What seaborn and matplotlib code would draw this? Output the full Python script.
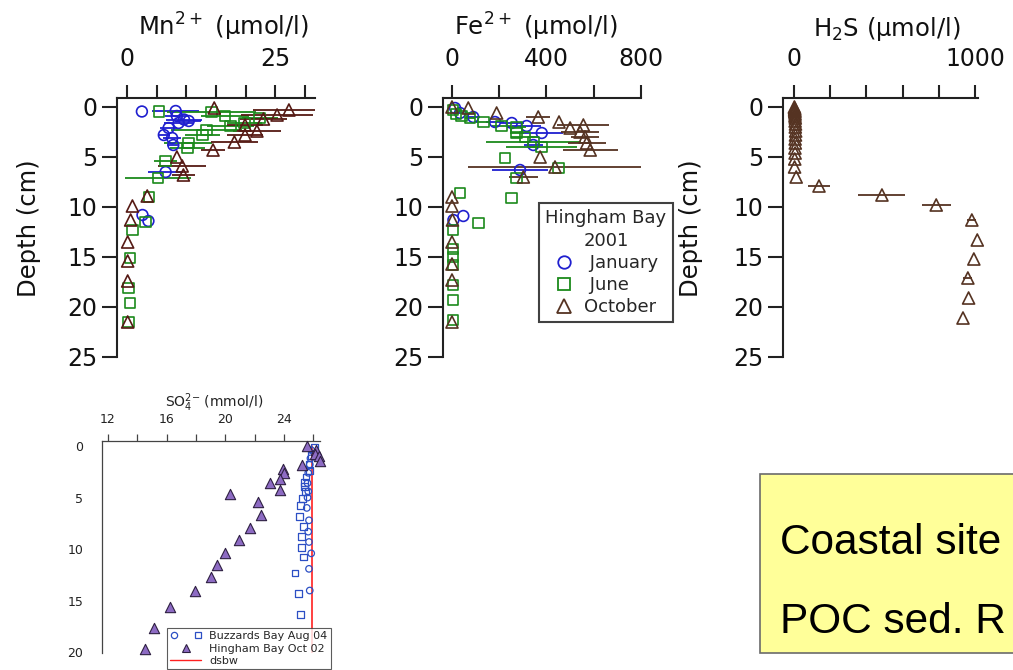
import numpy as np
import pandas as pd
import matplotlib
matplotlib.use("Agg")
import matplotlib.pyplot as plt
import seaborn as sns
from matplotlib.patches import Rectangle
from matplotlib.lines import Line2D
from matplotlib.legend_handler import HandlerTuple

# ---------------- Hingham Bay 2001 porewater profiles ----------------
# Mn2+ (µmol/l)
mn_jan_conc = [2.5, 8.2, 8.4, 9.6, 10.4, 8.7, 7.0, 6.2, 7.6, 7.8, 6.5, 2.6, 3.6]
mn_jan_depth = [0.45, 0.4, 0.9, 1.25, 1.4, 1.6, 2.1, 2.8, 3.1, 3.8, 6.5, 10.8, 11.4]
mn_jan_err = [0, 4.0, 2.0, 3.0, 2.0, 2.5, 1.5, 1.0, 1.5, 1.0, 3.0, 0, 0]

mn_jun_conc = [5.4, 14.2, 16.5, 22.4, 19.8, 17.4, 13.4, 12.7, 10.3, 10.2, 6.5, 5.2,
               3.7, 3.1, 0.9, 0.5, 0.2, 0.5, 0.2]
mn_jun_depth = [0.45, 0.5, 0.9, 1.1, 1.6, 1.9, 2.3, 2.8, 3.6, 4.1, 5.4, 7.1,
                9.0, 11.5, 12.3, 15.1, 18.1, 19.6, 21.5]
mn_jun_err = [0, 7.5, 4.0, 3.0, 3.0, 4.0, 6.0, 3.0, 4.0, 3.0, 2.0, 5.5,
              0, 0, 0, 0, 0, 0, 0]

mn_oct_conc = [14.7, 27.3, 25.3, 23.0, 19.9, 21.9, 19.9, 18.1, 14.5, 8.4, 9.3, 9.5,
               3.4, 0.9, 0.6, 0.1, 0.1, 0.1, 0.1]
mn_oct_depth = [0.1, 0.3, 0.8, 1.2, 1.8, 2.4, 2.8, 3.5, 4.3, 5.0, 5.9, 6.8,
                8.9, 9.9, 11.3, 13.5, 15.4, 17.4, 21.5]
mn_oct_err = [0, 6.0, 6.0, 4.0, 3.0, 4.0, 3.0, 4.0, 2.0, 0, 4.0, 2.0,
              0, 0, 0, 0, 0, 0, 0]

# Fe2+ (µmol/l)
fe_jan_conc = [13, 34, 90, 182, 253, 316, 380, 344, 288, 6, 48]
fe_jan_depth = [0.1, 0.6, 1.0, 1.5, 1.6, 1.9, 2.6, 3.8, 6.3, 11.3, 10.9]
fe_jan_err = [0, 15, 30, 40, 50, 60, 90, 40, 120, 0, 0]

fe_jun_conc = [4, 17, 40, 76, 133, 210, 274, 274, 309, 344, 380, 224, 450, 274, 253,
               34, 111, 4, 4, 4, 4, 4, 4, 4]
fe_jun_depth = [0.3, 0.7, 0.9, 1.1, 1.5, 1.9, 2.0, 2.6, 3.0, 3.5, 4.0, 5.1, 6.1, 7.1, 9.1,
                8.6, 11.6, 12.3, 14.2, 15.0, 15.8, 17.8, 19.3, 21.3]
fe_jun_err = [0, 0, 0, 20, 30, 40, 40, 30, 60, 200, 150, 0, 0, 0, 0,
              0, 0, 0, 0, 0, 0, 0, 0, 0]

fe_oct_conc = [0, 69, 189, 365, 453, 556, 500, 542, 563, 570, 585, 373, 436, 302,
               0, 0, 2, 0, 0, 0, 0]
fe_oct_depth = [0.0, 0.1, 0.6, 1.0, 1.5, 1.8, 2.1, 2.5, 3.0, 3.6, 4.3, 5.0, 6.0, 7.0,
                9.0, 9.9, 11.3, 13.5, 15.7, 17.3, 21.5]
fe_oct_err = [0, 0, 0, 50, 0, 110, 0, 80, 60, 80, 117, 0, 370, 60,
              0, 0, 0, 0, 0, 0, 0]

# H2S (µmol/l), October
h2s_oct_conc = [2, 3, 4, 3, 5, 4, 6, 5, 7, 6, 8, 7, 9, 8, 6, 7, 5, 6, 4, 3, 12,
                138, 486, 786, 983, 1013, 994, 961, 965, 934]
h2s_oct_depth = [0.0, 0.1, 0.2, 0.3, 0.4, 0.5, 0.7, 0.9, 1.1, 1.4, 1.7, 2.0, 2.4, 2.8,
                 3.2, 3.6, 4.1, 4.6, 5.2, 6.0, 7.0,
                 7.9, 8.8, 9.8, 11.3, 13.3, 15.2, 17.1, 19.1, 21.1]
h2s_oct_err = [0] * 21 + [60, 130, 80, 25, 0, 0, 25, 0, 0]

# SO4 2- (mmol/l)
so4_hb_conc = [25.55, 26.2, 26.1, 26.35, 26.45, 25.25, 23.95, 24.0, 23.7, 23.05, 23.7,
               20.3, 22.25, 22.4, 21.7, 20.95, 20.0, 19.4, 19.05, 17.95, 16.25, 15.15, 14.5]
so4_hb_depth = [0.05, 0.4, 0.75, 1.0, 1.45, 1.8, 2.2, 2.6, 3.2, 3.6, 4.25,
                4.7, 5.4, 6.7, 7.9, 9.1, 10.4, 11.5, 12.7, 14.0, 15.6, 17.6, 19.7]

so4_bb1_conc = [25.85, 25.8, 25.75, 25.65, 25.6, 25.65, 25.6, 25.55, 25.7, 25.65, 25.7,
                25.85, 25.7, 25.75]
so4_bb1_depth = [0.4, 1.2, 1.8, 2.6, 3.6, 4.4, 5.0, 6.0, 7.2, 8.3, 9.3, 10.4, 11.9, 14.0]

so4_bb2_conc = [26.1, 25.85, 25.7, 25.75, 25.5, 25.4, 25.4, 25.45, 25.25, 25.1, 25.05,
                25.3, 25.2, 25.2, 25.3, 24.75, 25.0, 25.1]
so4_bb2_depth = [0.1, 0.9, 1.8, 2.4, 3.0, 3.5, 3.9, 4.4, 5.05, 5.8, 6.85,
                 7.8, 8.75, 9.8, 10.75, 12.3, 14.3, 16.3]

dsbw_conc = [25.9, 25.9]
dsbw_depth = [0.0, 21.0]

# ---------------- styling ----------------
C_JAN = "#1f1fcf"
C_JUN = "#1b8a1b"
C_OCT1 = "#561a14"
C_OCT = "#553322"
C_SPINE = "#222222"

W, H = 1013, 670
sns.set_theme(style="white")
plt.rcParams["font.family"] = ["DejaVu Sans"]
plt.rcParams["mathtext.fontset"] = "dejavusans"

fig = plt.figure(figsize=(W / 100, H / 100), dpi=100)
fig.patch.set_facecolor("white")


def px_axes(left, right, top, bottom):
    return fig.add_axes([left / W, 1 - bottom / H, (right - left) / W, (bottom - top) / H])


def profile(ax, conc, depth, err, color, marker, size=60, lw=1.2):
    if err is not None:
        ax.errorbar(conc, depth, xerr=err, fmt="none", ecolor=color,
                    elinewidth=1.3, capsize=0, zorder=2)
    df = pd.DataFrame({"conc": conc, "depth": depth})
    sns.scatterplot(data=df, x="conc", y="depth", ax=ax, marker=marker, s=size,
                    facecolor="none", edgecolor=color, linewidth=lw,
                    zorder=3, clip_on=False, legend=False)


def style_top(ax, xlim, major, minor):
    ax.set_xlim(*xlim)
    ax.set_ylim(25, -0.9)
    for s in ("bottom", "right"):
        ax.spines[s].set_visible(False)
    for s in ("top", "left"):
        ax.spines[s].set_color(C_SPINE)
        ax.spines[s].set_linewidth(1.5)
    ax.xaxis.set_ticks_position("top")
    ax.set_xticks(major)
    ax.set_xticks(minor, minor=True)
    ax.set_yticks([0, 5, 10, 15, 20, 25])
    ax.tick_params(axis="x", which="both", direction="out", length=9.5, width=1.5,
                   color=C_SPINE, labelsize=17, pad=10, top=True, bottom=False,
                   labeltop=True, labelbottom=False, labelcolor="#111111")
    ax.tick_params(axis="y", which="both", direction="out", length=11, width=1.5,
                   color=C_SPINE, labelsize=17, pad=3, left=True, labelcolor="#111111")
    ax.set_xlabel("")
    ax.set_ylabel("")
    ax.set_facecolor("none")


# ---- Mn ----
ax1 = px_axes(117, 315, 98, 357)
profile(ax1, mn_jan_conc, mn_jan_depth, mn_jan_err, C_JAN, "o")
profile(ax1, mn_jun_conc, mn_jun_depth, mn_jun_err, C_JUN, "s")
profile(ax1, mn_oct_conc, mn_oct_depth, mn_oct_err, C_OCT1, "^", size=75)
style_top(ax1, (-1.7, 31.7), [0, 25], [5, 10, 15, 20, 30])
fig.text(223 / W, 1 - 36 / H, r"Mn$^{2+}$ (µmol/l)", ha="center", va="baseline",
         fontsize=17.5, color="#111111")
fig.text(29 / W, 1 - 228 / H, "Depth (cm)", rotation=90, ha="center", va="center",
         fontsize=17.5, color="#111111")

# ---- Fe ----
ax2 = px_axes(443, 641, 98, 357)
profile(ax2, fe_jan_conc, fe_jan_depth, fe_jan_err, C_JAN, "o")
profile(ax2, fe_jun_conc, fe_jun_depth, fe_jun_err, C_JUN, "s")
profile(ax2, fe_oct_conc, fe_oct_depth, fe_oct_err, C_OCT, "^", size=75)
style_top(ax2, (-38, 800), [0, 400, 800], [200, 600])
fig.text(536 / W, 1 - 36 / H, r"Fe$^{2+}$ (µmol/l)", ha="center", va="baseline",
         fontsize=17.5, color="#111111")

handles = [
    Line2D([], [], ls="none", marker="o", ms=9, mfc="none", mec=C_JAN, mew=1.3),
    Line2D([], [], ls="none", marker="s", ms=9, mfc="none", mec=C_JUN, mew=1.3),
    Line2D([], [], ls="none", marker="^", ms=10, mfc="none", mec=C_OCT, mew=1.3),
]
leg = fig.legend(handles, [" January", " June", "October"], title="Hingham Bay\n2001",
                 loc="upper left", bbox_to_anchor=(539 / W, 1 - 203 / H),
                 fontsize=13, title_fontsize=13, frameon=True, fancybox=False,
                 borderpad=0.35, labelspacing=0.22, handlelength=1.2, handletextpad=0.5,
                 borderaxespad=0)
leg.get_frame().set_edgecolor("#111111")
leg.get_frame().set_linewidth(1.5)
leg.get_title().set_multialignment("center")
leg.get_title().set_linespacing(1.35)

# ---- H2S ----
ax3 = px_axes(783, 978, 98, 357)
profile(ax3, h2s_oct_conc, h2s_oct_depth, h2s_oct_err, C_OCT, "^", size=75)
style_top(ax3, (-61, 1017), [0, 1000], [200, 400, 600, 800])
fig.text(887 / W, 1 - 36 / H, r"H$_2$S (µmol/l)", ha="center", va="baseline",
         fontsize=17.5, color="#111111")
fig.text(691 / W, 1 - 228 / H, "Depth (cm)", rotation=90, ha="center", va="center",
         fontsize=17.5, color="#111111")

# ---- SO4 ----
ax4 = px_axes(102, 320, 441, 653)
ax4.plot(dsbw_conc, dsbw_depth, color="#ff2020", lw=1.2, zorder=1)
df_bb1 = pd.DataFrame({"conc": so4_bb1_conc, "depth": so4_bb1_depth})
df_bb2 = pd.DataFrame({"conc": so4_bb2_conc, "depth": so4_bb2_depth})
df_hb = pd.DataFrame({"conc": so4_hb_conc, "depth": so4_hb_depth})
C_BB = "#2c4fc4"
C_HB = "#8d6bc3"
sns.scatterplot(data=df_bb1, x="conc", y="depth", ax=ax4, marker="o", s=22,
                facecolor="none", edgecolor=C_BB, linewidth=0.9, zorder=3, legend=False)
sns.scatterplot(data=df_bb2, x="conc", y="depth", ax=ax4, marker="s", s=24,
                facecolor="none", edgecolor=C_BB, linewidth=0.9, zorder=3, legend=False)
sns.scatterplot(data=df_hb, x="conc", y="depth", ax=ax4, marker="^", s=55,
                color=C_HB, edgecolor="#2e2042", linewidth=0.8, zorder=4,
                clip_on=False, legend=False)
ax4.set_xlim(11.59, 26.45)
ax4.set_ylim(20.05, -0.48)
for s in ("bottom", "right"):
    ax4.spines[s].set_visible(False)
for s in ("top", "left"):
    ax4.spines[s].set_color("#444444")
    ax4.spines[s].set_linewidth(0.9)
ax4.xaxis.set_ticks_position("top")
ax4.set_xticks([12, 16, 20, 24])
ax4.set_xticks([14, 18, 22, 26], minor=True)
ax4.set_yticks([0, 5, 10, 15, 20])
ax4.tick_params(axis="x", which="both", direction="out", length=5, width=0.9,
                color="#444444", labelsize=9, pad=6, top=True, bottom=False,
                labeltop=True, labelbottom=False, labelcolor="#222222")
ax4.tick_params(axis="y", direction="out", length=6.5, width=0.9, color="#444444",
                labelsize=9, pad=7, labelcolor="#222222")
ax4.set_xlabel("")
ax4.set_ylabel("")
ax4.set_facecolor("none")
fig.text(214 / W, 1 - 407 / H, r"SO$_4^{2\mathsf{-}}$ (mmol/l)", ha="center",
         va="baseline", fontsize=10, color="#222222")

h_bb = (Line2D([], [], ls="none", marker="o", ms=4.5, mfc="none", mec=C_BB, mew=0.9),
        Line2D([], [], ls="none", marker="s", ms=4.5, mfc="none", mec=C_BB, mew=0.9))
h_hb = Line2D([], [], ls="none", marker="^", ms=6, mfc=C_HB, mec="#2e2042", mew=0.8)
h_ds = Line2D([], [], color="#ff2020", lw=1.0)
leg2 = fig.legend([h_bb, h_hb, h_ds],
                  ["Buzzards Bay Aug 04", "Hingham Bay Oct 02", "dsbw"],
                  handler_map={tuple: HandlerTuple(ndivide=None, pad=1.4)},
                  loc="upper left", bbox_to_anchor=(167 / W, 1 - 628 / H),
                  fontsize=8, frameon=True, fancybox=False, borderpad=0.3,
                  labelspacing=0.2, handlelength=2.8, handletextpad=0.7,
                  borderaxespad=0)
leg2.get_frame().set_edgecolor("#333333")
leg2.get_frame().set_linewidth(0.8)

# ---- note box ----
fig.patches.append(Rectangle((760 / W, 1 - 653 / H), 0.3, 179 / H,
                             transform=fig.transFigure, facecolor="#ffff99",
                             edgecolor="#6b6b6b", linewidth=1.2, zorder=0))
fig.text(780 / W, 1 - 554 / H, "Coastal site", ha="left", va="baseline",
         fontsize=30.5, family="Liberation Sans", color="black")
fig.text(780 / W, 1 - 633 / H, "POC sed. R", ha="left", va="baseline",
         fontsize=30.5, family="Liberation Sans", color="black")

fig.savefig("out.png", dpi=100)
